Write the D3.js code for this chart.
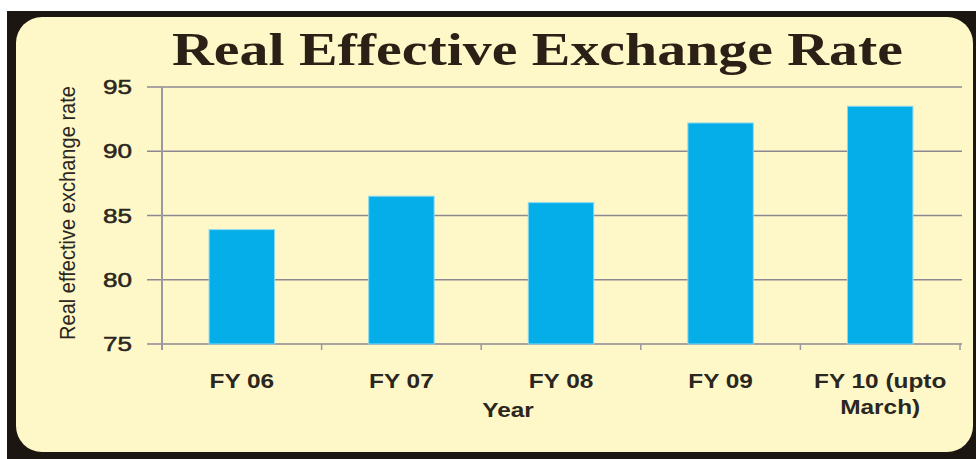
<!DOCTYPE html>
<html>
<head>
<meta charset="utf-8">
<script src="https://cdn.jsdelivr.net/npm/d3@7"></script>
<style>
  html, body { margin: 0; padding: 0; background: #ffffff; }
  svg { display: block; }
</style>
</head>
<body>
<svg id="chart" width="976" height="459"></svg>
<script>
// Real effective exchange rate by fiscal year
const categories = ["FY 06", "FY 07", "FY 08", "FY 09", "FY 10 (upto March)"];
const values = [83.9, 86.5, 86.0, 92.2, 93.5];
const yTicks = [75, 80, 85, 90, 95];
const titleText = "Real Effective Exchange Rate";
const yAxisTitle = "Real effective exchange rate";
const xAxisTitle = "Year";

const svg = d3.select("#chart");
const ink = "#2a2620";

// Frame: black border with a rounded cream panel inside
svg.append("rect")
  .attr("x", 7).attr("y", 11).attr("width", 969).attr("height", 448)
  .attr("fill", "#1b1612");
svg.append("rect")
  .attr("x", 16).attr("y", 17).attr("width", 957).attr("height", 435)
  .attr("rx", 26).attr("ry", 26)
  .attr("fill", "#fef7c7");

const plot = { left: 162, right: 960, top: 87, bottom: 344 };

const x = d3.scaleBand()
  .domain(categories)
  .range([plot.left, plot.right])
  .paddingInner(0.59)
  .paddingOuter(0.295);

const y = d3.scaleLinear()
  .domain([75, 95])
  .range([plot.bottom, plot.top]);

// Title
svg.append("text")
  .attr("x", 172).attr("y", 65)
  .attr("textLength", 731)
  .attr("lengthAdjust", "spacingAndGlyphs")
  .attr("font-family", "'Liberation Serif', 'DejaVu Serif', serif")
  .attr("font-weight", "bold")
  .attr("font-size", 46)
  .attr("fill", "#2a2016")
  .text(titleText);

// Horizontal gridlines with left tick stubs
svg.append("g").selectAll("line")
  .data(yTicks)
  .join("line")
  .attr("x1", plot.left - 15)
  .attr("x2", plot.right + 2)
  .attr("y1", d => y(d))
  .attr("y2", d => y(d))
  .attr("stroke", "#8e8893")
  .attr("stroke-width", 1.6);

// Vertical axis line
svg.append("line")
  .attr("x1", plot.left).attr("x2", plot.left)
  .attr("y1", y(95)).attr("y2", y(75) + 6)
  .attr("stroke", "#9d97a3")
  .attr("stroke-width", 2);

// Category boundary ticks on the x axis
const step = x.step();
const boundaries = d3.range(categories.length + 1).map(i => plot.left + i * step);
svg.append("g").selectAll("line")
  .data(boundaries.slice(1))
  .join("line")
  .attr("x1", d => d).attr("x2", d => d)
  .attr("y1", y(75)).attr("y2", y(75) + 6)
  .attr("stroke", "#9d97a3")
  .attr("stroke-width", 1.5);

// Y tick labels
svg.append("g").selectAll("text")
  .data(yTicks)
  .join("text")
  .attr("x", 132)
  .attr("y", d => y(d) + 7)
  .attr("text-anchor", "end")
  .attr("font-family", "'Liberation Sans', Arial, sans-serif")
  .attr("font-size", 20)
  .attr("fill", ink)
  .attr("stroke", ink)
  .attr("stroke-width", 0.5)
  .attr("textLength", 29)
  .attr("lengthAdjust", "spacingAndGlyphs")
  .text(d => d);

// Bars
svg.append("g").selectAll("rect")
  .data(values)
  .join("rect")
  .attr("x", (d, i) => x(categories[i]))
  .attr("y", d => y(d))
  .attr("width", x.bandwidth())
  .attr("height", d => y(75) - y(d))
  .attr("fill", "#05aee9")
  .attr("stroke", "#8ad8f0")
  .attr("stroke-width", 1);

// X category labels (wrapped after "(upto")
const xl = svg.append("g").selectAll("g")
  .data(categories)
  .join("g")
  .attr("transform", d => `translate(${x(d) + x.bandwidth() / 2},388) scale(1.22,1)`);
xl.each(function(d) {
  const cut = d.indexOf(" (");
  const parts = cut >= 0 ? [d.slice(0, cut + 6), d.slice(cut + 6).trim()] : [d];
  const t = d3.select(this).append("text")
    .attr("text-anchor", "middle")
    .attr("font-family", "'Liberation Sans', Arial, sans-serif")
    .attr("font-weight", "bold")
    .attr("font-size", 20)
    .attr("fill", ink);
  parts.forEach((p, k) => {
    t.append("tspan")
      .attr("x", 0)
      .attr("dy", k === 0 ? 0 : 26)
      .text(p);
  });
});

// X axis title
svg.append("text")
  .attr("transform", "translate(508,417) scale(1.22,1)")
  .attr("text-anchor", "middle")
  .attr("font-family", "'Liberation Sans', Arial, sans-serif")
  .attr("font-weight", "bold")
  .attr("font-size", 20)
  .attr("fill", ink)
  .text(xAxisTitle);

// Y axis title
svg.append("text")
  .attr("transform", "translate(75,213) rotate(-90)")
  .attr("text-anchor", "middle")
  .attr("font-family", "'Liberation Sans Narrow', 'Liberation Sans', Arial, sans-serif")
  .attr("font-size", 22)
  .attr("fill", ink)
  .attr("textLength", 254)
  .attr("lengthAdjust", "spacingAndGlyphs")
  .text(yAxisTitle);
</script>
</body>
</html>
